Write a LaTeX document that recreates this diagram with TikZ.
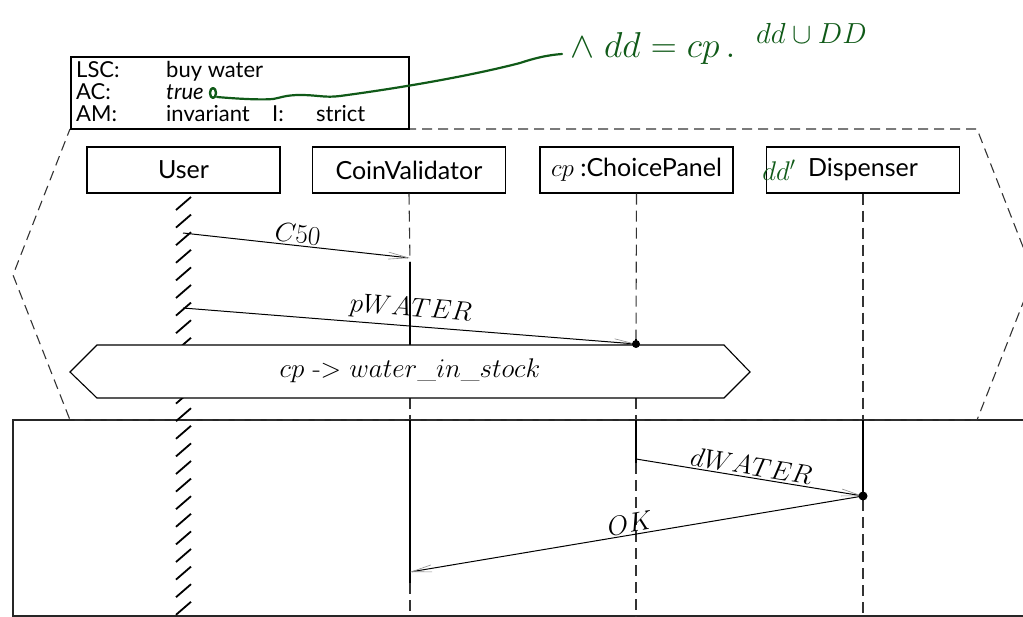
\RequirePackage{fix-cm}
\documentclass[tikz,border=0pt]{standalone}
\usepackage{fontspec}
\setsansfont{Lato}
\usetikzlibrary{arrows.meta}
\definecolor{hw}{RGB}{16,90,24}
\begin{document}
\begin{tikzpicture}[x=1pt,y=-1pt,
  lifebox/.style={draw, line width=1.1pt, minimum width=193pt, minimum height=46pt, inner sep=0pt, font=\sffamily\fontsize{25}{28}\selectfont},
  ttl/.style={anchor=base west, inner sep=0pt, font=\sffamily\fontsize{22}{24}\selectfont},
  lifedash/.style={line width=1.1pt, draw=black!80, dash pattern=on 11pt off 6pt},
  hot/.style={line width=1.1pt, draw=black},
  msg/.style={line width=1pt, -{Straight Barb[length=20pt,width=7pt,line width=0.6pt,color=black!45]}},
  msgrev/.style={line width=1pt, {Straight Barb[length=20pt,width=7pt,line width=0.6pt,color=black!45]}-},
  lbl/.style={sloped, above, inner sep=2pt, font=\fontsize{27}{30}\selectfont},
  hatchstroke/.style={line width=1.8pt},
  prechart/.style={line width=1.1pt, draw=black!80, dash pattern=on 10pt off 6pt},
  chartbox/.style={line width=1.1pt, draw=black!85},
  condbox/.style={line width=1.1pt, draw=black, fill=white},
  hotdot/.style={fill=black},
  hand/.style={draw=hw, line width=2.2pt, line cap=round, line join=round}
]
\useasboundingbox (0,0) rectangle (1023,617);

% main chart and prechart
\draw[chartbox] (13,420) rectangle (1045,616);
\draw[prechart] (70,129) -- (977,129) -- (1034,275) -- (977,420) -- (70,420) -- (13,275) -- cycle;

% instance heads
\node[lifebox] (user) at (183.5,170) {User};
\node[lifebox] (cv) at (409,170) {CoinValidator};
\node[lifebox] (cp) at (636.5,170) {$cp$ :ChoicePanel};
\node[lifebox] (dsp) at (863,170) {Dispenser};

% user lifeline (hatched)
\foreach \y in {197,214.6,...,612}
  \draw[hatchstroke] (176,\y+13) -- (191,\y);

% CoinValidator lifeline
\coordinate (cvA) at (410,262);
\coordinate (cvB) at (410,345);
\coordinate (cvC) at (410,398);
\coordinate (cvD) at (410,420);
\coordinate (cvE) at (410,583);
\coordinate (cvF) at (410,617);
\draw[lifedash] (cv.south) -- (cvA);
\draw[hot] (cvA) -- (cvB);
\draw[lifedash] (cvC) -- (cvD);
\draw[hot] (cvD) -- (cvE);
\draw[lifedash] (cvE) -- (cvF);

% ChoicePanel lifeline
\coordinate (cpA) at (636,339);
\coordinate (cpB) at (636,345);
\coordinate (cpC) at (636,398);
\coordinate (cpD) at (636,420);
\coordinate (cpE) at (636,463);
\coordinate (cpF) at (636,617);
\draw[lifedash] (cp.south) -- (cpA);
\draw[hot] (cpA) -- (cpB);
\draw[lifedash] (cpC) -- (cpD);
\draw[hot] (cpD) -- (cpE);
\draw[lifedash] (cpE) -- (cpF);

% Dispenser lifeline
\coordinate (dA) at (863,420);
\coordinate (dB) at (863,500);
\coordinate (dC) at (863,617);
\draw[lifedash] (dsp.south) -- (dA);
\draw[hot] (dA) -- (dB);
\draw[lifedash] (dB) -- (dC);

% messages
\coordinate (m1s) at (183,233);
\coordinate (m1e) at (410,258);
\draw[msg] (m1s) -- node[lbl] {$C50$} (m1e);

\coordinate (m2s) at (183,308);
\coordinate (m2e) at (636,344);
\draw[msg] (m2s) -- node[lbl, inner sep=4pt] {$pWATER$} (m2e);

\coordinate (m3s) at (636,459);
\coordinate (m3e) at (863,496);
\draw[msg] (m3s) -- node[lbl] {$dWATER$} (m3e);

\coordinate (m4e) at (410,572);
\draw[msgrev] (m4e) -- node[lbl, pos=0.49] {$OK$} (m3e);

% condition
\draw[condbox] (70,372) -- (97,345) -- (724,345) -- (750,372) -- (724,398) -- (97,398) -- cycle;
\node[font=\fontsize{27}{30}\selectfont] (cond) at (410,371) {$cp$ {\rmfamily ->} $water\_in\_stock$};

% dots
\fill[hotdot] (m2e) circle (4);
\fill[hotdot] (m3e) circle (4.5);

% title box
\node[draw, line width=1.1pt, fill=white, minimum width=338pt, minimum height=72pt, inner sep=0pt] (title) at (240,93) {};
\node[ttl] (t1) at (76,78) {LSC:};
\node[ttl] (t2) at (166,78) {buy water};
\node[ttl] (t3) at (76,100) {AC:};
\node[ttl] (t4) at (166,100) {\itshape true};
\node[ttl] (t5) at (76,122) {AM:};
\node[ttl] (t6) at (166,122) {invariant};
\node[ttl] (t7) at (272,122) {I:};
\node[ttl] (t8) at (316,122) {strict};

% handwritten annotations
\draw[hand, line width=2.4pt] (213,93) ellipse (3 and 5);
\coordinate (hwa) at (217,97);
\coordinate (hwb) at (562,54);
\draw[hand] (hwa) .. controls (240,99) and (262,100) .. (273,99)
  .. controls (280,98) and (285,95) .. (300,95)
  .. controls (318,95) and (325,98) .. (340,96)
  .. controls (400,88) and (470,76) .. (520,63)
  .. controls (535,58) and (548,55) .. (hwb);
\node[text=hw, anchor=base west, inner sep=0pt, font=\fontsize{36}{38}\selectfont] (hw1) at (570,58) {$\wedge\;dd = cp\,.$};
\node[text=hw, anchor=base west, inner sep=0pt, font=\fontsize{29}{30}\selectfont] (hw2) at (756,44) {$dd\cup DD$};
\node[text=hw, inner sep=0pt, font=\fontsize{27}{30}\selectfont] (hw3) at (779,170) {$dd'$};
\end{tikzpicture}
\end{document}
